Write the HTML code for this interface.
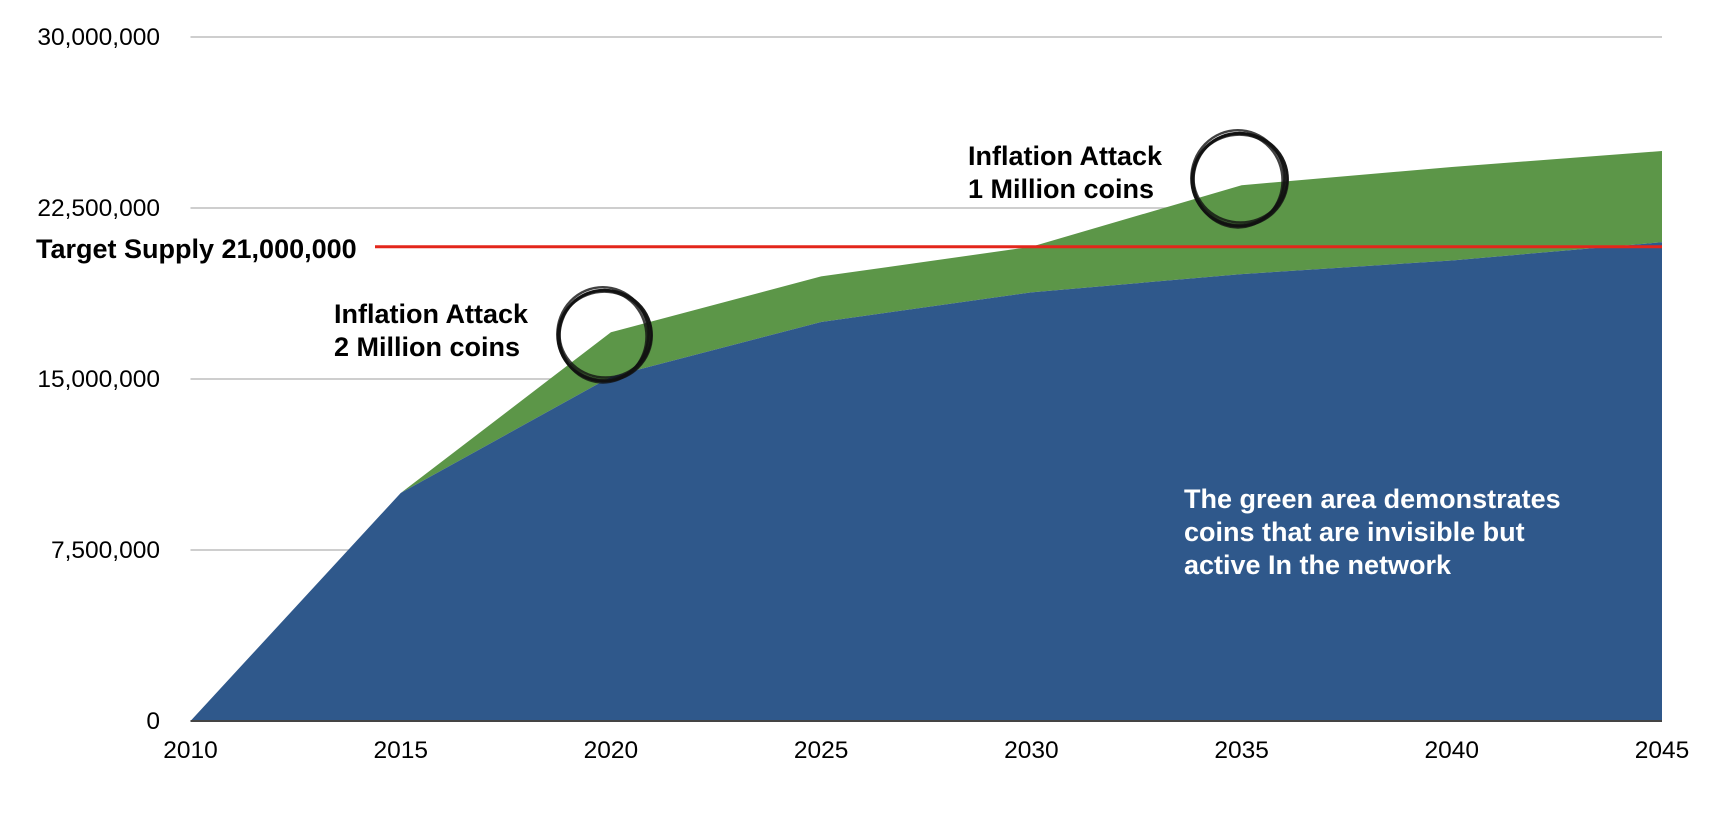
<!DOCTYPE html>
<html><head><meta charset="utf-8"><style>
html,body{margin:0;padding:0;background:#fff;}
svg{display:block;font-family:"Liberation Sans",Arial,sans-serif;}
</style></head><body>
<svg id="chart" width="1728" height="824" viewBox="0 0 1728 824" xmlns="http://www.w3.org/2000/svg">
<g id="grid"></g>
<g id="areas"></g>
<g id="yticks"></g>
<g id="xticks"></g>
<g id="annot"></g>
</svg>
<script>
const years = [2010, 2015, 2020, 2025, 2030, 2035, 2040, 2045];
const visibleSupply = [0, 10.0, 15.1, 17.5, 18.8, 19.6, 20.2, 21.0];
const invisibleCoins = [0, 0, 1.95, 2.0, 2.0, 3.9, 4.1, 4.0];
const yTicks = [0, 7.5, 15, 22.5, 30];
const yTickLabels = ["0", "7,500,000", "15,000,000", "22,500,000", "30,000,000"];
const targetSupply = 20.8;

const NS = "http://www.w3.org/2000/svg";
const X0 = 190.5, X1 = 1662, Y0 = 721, Y1 = 37;
const xS = v => X0 + (v - 2010) / (2045 - 2010) * (X1 - X0);
const yS = v => Y0 - v / 30 * (Y0 - Y1);
function mk(tag, attrs, parent) {
  const e = document.createElementNS(NS, tag);
  for (const k in attrs) e.setAttribute(k, attrs[k]);
  parent.appendChild(e);
  return e;
}
const grid = document.getElementById('grid');
const yt = document.getElementById('yticks');
yTicks.forEach((t, i) => {
  if (t > 0) {
    const l = mk('line', {x1: X0, x2: X1, y1: yS(t), y2: yS(t), stroke: '#bdbdbd', 'stroke-width': 1.5}, grid);
    
    
  }
  const tx = mk('text', {x: 160, y: yS(t) + 8, 'text-anchor': 'end', 'font-size': 24.5, fill: '#000'}, yt);
  tx.textContent = yTickLabels[i];
  
  
});
const areas = document.getElementById('areas');
const stackTop = years.map((y, i) => [xS(y), yS(visibleSupply[i] + invisibleCoins[i])]);
const stackMid = years.map((y, i) => [xS(y), yS(visibleSupply[i])]);
let gp = 'M' + stackTop.map(p => p.join(',')).join(' L') + ' L' + stackMid.slice().reverse().map(p => p.join(',')).join(' L') + 'Z';
const g = mk('path', {d: gp, fill: '#5C9648'}, areas);


let bp = 'M' + stackMid.map(p => p.join(',')).join(' L') + ` L${xS(2045)},${Y0} L${xS(2010)},${Y0}Z`;
const b = mk('path', {d: bp, fill: '#2F588B'}, areas);


const ax = mk('line', {x1: X0, x2: X1, y1: Y0, y2: Y0, stroke: '#444', 'stroke-width': 2}, areas);


const red = mk('line', {x1: 375, x2: X1, y1: yS(targetSupply), y2: yS(targetSupply), stroke: '#E3261B', 'stroke-width': 3}, areas);


const xt = document.getElementById('xticks');
years.forEach(y => {
  const tx = mk('text', {x: xS(y), y: 758, 'text-anchor': 'middle', 'font-size': 24.5, fill: '#000'}, xt);
  tx.textContent = y;
  
  
});
const an = document.getElementById('annot');
function label(x, y, lines, fill, name) {
  const t = mk('text', {x: x, y: y, 'font-size': 27, 'font-weight': 'bold', fill: fill}, an);
  
  
  lines.forEach((s, i) => {
    const ts = mk('tspan', {x: x, dy: i ? 33 : 0}, t);
    ts.textContent = s;
  });
}
label(36, 258, ["Target Supply 21,000,000"], '#000', 'target-supply-label');
label(334, 323, ["Inflation Attack", "2 Million coins"], '#000', 'attack-2m-label');
label(968, 165, ["Inflation Attack", "1 Million coins"], '#000', 'attack-1m-label');
label(1184, 508, ["The green area demonstrates", "coins that are invisible but", "active In the network"], '#fff', 'green-area-note');
function circ(cx, cy, r, name) {
  const gg = mk('g', {}, an);
  
  
  const offs = [[0,0,0,0],[1.5,-1,1,-1.5],[-1,1.5,-1.5,1],[0.8,0.6,2,0.5],[-1.2,-0.8,0.5,2],[0.3,1.2,1.5,-0.5]];
  offs.forEach(o => {
    mk('ellipse', {cx: cx + o[0], cy: cy + o[1], rx: r + o[2], ry: r + o[3], fill: 'none', stroke: '#111', 'stroke-width': 2.4, opacity: 0.8}, gg);
  });
}
circ(604, 335, 45, 'attack-2m-circle');
circ(1239, 179, 46, 'attack-1m-circle');
</script>
</body></html>
